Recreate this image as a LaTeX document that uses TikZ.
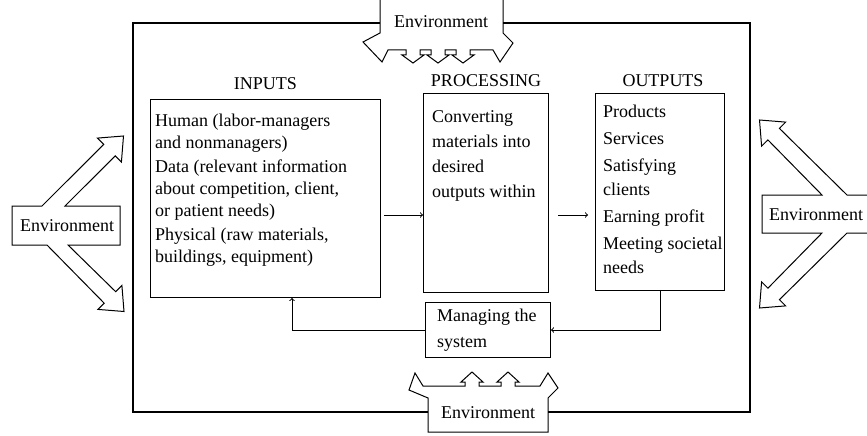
\documentclass[tikz,border=0pt]{standalone}
\usepackage{fontspec}
\setmainfont{Liberation Serif}
\usetikzlibrary{positioning}
\tikzset{
  box/.style={draw, line width=1pt, inner sep=0pt, anchor=north west},
  txt/.style={align=left, inner sep=0pt, font=\fontsize{18}{22}\selectfont},
  title/.style={inner sep=0pt, font=\fontsize{18}{22}\selectfont},
  envline/.style={line width=1pt, line join=miter},
  frame/.style={line width=1.2pt},
  flow/.style={->, line width=1pt},
}

\begin{document}
\begin{tikzpicture}[x=1pt, y=-1pt]
    \useasboundingbox (0,0) rectangle (867,436);
    \clip (0,0) rectangle (867,436);

    % The three stages and the managing box.
    \node[box, minimum width=230pt, minimum height=198pt] (inputs) at (150,99) {};
    \node[box, minimum width=125pt, minimum height=199pt] (proc) at (423,93) {};
    \node[box, minimum width=129pt, minimum height=197pt] (outputs) at (595,93) {};
    \node[box, minimum width=125pt, minimum height=55pt] (manage) at (425,302) {};

    \node[title, above=9pt of inputs] (intitle) {INPUTS};
    \node[title, above=6pt of proc] (proctitle) {PROCESSING};
    \node[title, above=6pt of outputs, xshift=3pt] (outtitle) {OUTPUTS};

    \node[txt, below right=14.5pt and 5pt of inputs.north west] (intext)
      {Human (labor-managers\\ and nonmanagers)\\[2pt]
       Data (relevant information\\ about competition, client,\\ or patient needs)\\[2pt]
       Physical (raw materials,\\ buildings, equipment)};
    \node[txt, below right=17pt and 9pt of proc.north west,
          font=\fontsize{18}{25}\selectfont] (proctext)
      {Converting\\ materials into\\ desired\\ outputs within};
    \node[txt, below right=12pt and 8pt of outputs.north west,
          font=\fontsize{18}{24}\selectfont] (outtext)
      {Products\\[3pt] Services\\[3pt] Satisfying\\ clients\\[3pt]
       Earning profit\\[3pt] Meeting societal\\ needs};
    \node[txt, below right=7pt and 12pt of manage.north west,
          font=\fontsize{18}{26}\selectfont] (mantext)
      {Managing the\\ system};

    % Flow and feedback.
    \coordinate (flowy) at (0,215);
    \coordinate (fbin) at (292,0);
    \draw[flow, shorten <=3pt] (inputs.east |- flowy) -- (proc.west |- flowy);
    \draw[flow, shorten <=9pt, shorten >=7pt] (proc.east |- flowy) -- (outputs.west |- flowy);
    \draw[flow] (outputs.south) |- (manage.east);
    \draw[flow] (manage.west) -| (inputs.south -| fbin);

    % The organisation boundary.
    \draw[frame] (380,23) -- (133,23) -- (133,412) -- (428,412);
    \draw[frame] (503,23) -- (750,23) -- (750,412) -- (548,412);

    % Environment on top, arrows pointing down.
    \draw[envline] (380,-5) -- (380,33) -- (363,42) -- (382,62) -- (388,50)
      -- (406,50) -- (406,55) -- (402,55) -- (413,63) -- (424,55) -- (420,55) -- (420,50)
      -- (431,50) -- (431,55) -- (427,55) -- (438,63) -- (449,55) -- (445,55) -- (445,50)
      -- (456,50) -- (456,55) -- (452,55) -- (463,63) -- (474,55) -- (470,55) -- (470,50)
      -- (493,50) -- (500,62) -- (513,43) -- (503,33) -- (503,-5);
    \node[title] (envtop) at (441,22) {Environment};

    % Environment at the bottom, arrows pointing up.
    \draw[envline] (548,398) -- (548,432) -- (428,432) -- (428,398) -- (409,390) -- (415,373)
      -- (423,386) -- (465,386) -- (465,382) -- (461,382) -- (472,372) -- (483,382)
      -- (479,382) -- (479,386) -- (501,386) -- (501,382) -- (497,382) -- (508,372)
      -- (519,382) -- (515,382) -- (515,386) -- (540,386) -- (548,373) -- (558,388) -- cycle;
    \node[title] (envbot) at (488,413) {Environment};

    % Environment on the left, two hollow arrows.
    \draw[envline] (12,206) -- (42,206) -- (103.7,144.4) -- (97.4,138.1) -- (123.5,136)
      -- (121.4,162.1) -- (115.2,155.9) -- (65,206) -- (120,206) -- (120,245)
      -- (68,245) -- (115.7,291.7) -- (121.9,285.4) -- (124,311.5) -- (97.9,309.4)
      -- (104.2,303.2) -- (47,245) -- (12,245) -- cycle;
    \node[title] (envleft) at (67,226) {Environment};

    % Environment on the right.
    \draw[envline] (869,195) -- (847,195) -- (779.4,128.4) -- (785.6,122.1) -- (759.5,120)
      -- (761.6,146.1) -- (767.9,139.9) -- (822,195) -- (762,195) -- (762,233)
      -- (822,233) -- (767.9,288.2) -- (761.6,281.9) -- (759.5,308) -- (785.6,305.9)
      -- (779.4,299.7) -- (847,233) -- (869,233);
    \node[title] (envright) at (816,215) {Environment};
\end{tikzpicture}
\end{document}
